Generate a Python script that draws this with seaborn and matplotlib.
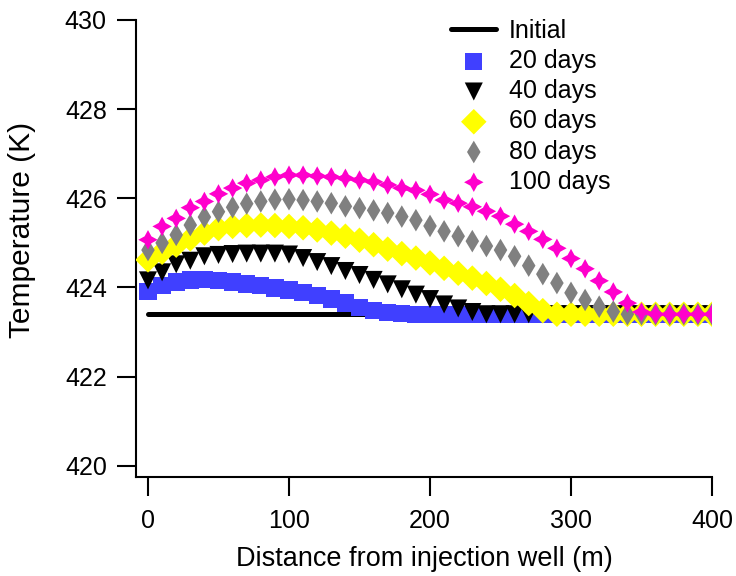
import numpy as np
import pandas as pd
import matplotlib
matplotlib.use("Agg")
import matplotlib.pyplot as plt
import seaborn as sns

sns.set_theme(style="ticks")
plt.rcParams['font.family'] = ['Liberation Sans', 'DejaVu Sans']
plt.rcParams['text.color'] = 'black'
plt.rcParams['axes.labelcolor'] = 'black'

distance = list(range(0, 401, 10))
initial_x = [0, 400]
initial_t = [423.4, 423.4]

t20 = [423.91, 424.04, 424.12, 424.17, 424.18, 424.16, 424.12, 424.08, 424.04, 423.99,
       423.94, 423.89, 423.82, 423.74, 423.65, 423.55, 423.48, 423.44, 423.41] + [423.4] * 22
t40 = [424.16, 424.34, 424.52, 424.60, 424.70, 424.73, 424.75, 424.76, 424.76, 424.76,
       424.74, 424.66, 424.57, 424.48, 424.37, 424.28, 424.17, 424.07, 423.96, 423.84,
       423.74, 423.62, 423.53, 423.45] + [423.4] * 17
t60 = [424.62, 424.79, 424.95, 425.09, 425.22, 425.32, 425.37, 425.39, 425.40, 425.39,
       425.37, 425.34, 425.29, 425.22, 425.15, 425.06, 424.96, 424.86, 424.76, 424.66,
       424.55, 424.43, 424.32, 424.21, 424.09, 423.96, 423.82, 423.64, 423.48] + [423.4] * 12
t80 = [424.84, 425.00, 425.18, 425.40, 425.58, 425.70, 425.80, 425.88, 425.93, 425.97,
       425.98, 425.96, 425.93, 425.89, 425.82, 425.78, 425.73, 425.67, 425.59, 425.51,
       425.38, 425.26, 425.15, 425.04, 424.93, 424.84, 424.70, 424.49, 424.30, 424.10,
       423.88, 423.72, 423.57, 423.46] + [423.4] * 7
t100 = [425.07, 425.37, 425.55, 425.79, 425.93, 426.10, 426.23, 426.34, 426.41, 426.48,
        426.52, 426.52, 426.50, 426.48, 426.45, 426.41, 426.37, 426.30, 426.23, 426.18,
        426.09, 425.96, 425.89, 425.81, 425.71, 425.60, 425.42, 425.26, 425.08, 424.88,
        424.65, 424.42, 424.15, 423.90, 423.65, 423.45] + [423.4] * 5

series = [
    ("20 days", t20, "#4040FF", "s", 12.5),
    ("40 days", t40, "#000000", "v", 13),
    ("60 days", t60, "#FFFF00", "D", 13),
    ("80 days", t80, "#808080", "d", 11.5),
    ("100 days", t100, "#FF00CC", (4, 1, 0), 14),
]

fig = plt.figure(figsize=(7.36, 5.76), dpi=100)
ax = fig.add_axes([0.1848, 0.1719, 0.7826, 0.7934])

sns.lineplot(x=initial_x, y=initial_t, ax=ax, color="black", linewidth=3.6,
             label="Initial")
for name, vals, col, mk, ms in series:
    df = pd.DataFrame({"x": distance, "y": vals})
    sns.scatterplot(data=df, x="x", y="y", ax=ax, color=col, marker=mk,
                    s=ms ** 2, linewidth=0, edgecolor="none", label=name, zorder=3)

ax.set_xlim(-8.5, 400)
ax.set_ylim(419.75, 430)
ax.set_xticks([0, 100, 200, 300, 400])
ax.set_yticks([420, 422, 424, 426, 428, 430])
for s in ["top", "right"]:
    ax.spines[s].set_visible(False)
for s in ["left", "bottom"]:
    ax.spines[s].set_linewidth(1.5)
    ax.spines[s].set_color("black")
ax.tick_params(direction="out", width=1.5, labelsize=18, color="black",
               labelcolor="black")
ax.tick_params(axis="y", length=14, pad=7)
ax.tick_params(axis="x", length=14, pad=8.7)
ax.set_xlabel("Distance from injection well (m)", fontsize=19.5, labelpad=10,
              color="black")
ax.set_ylabel("Temperature (K)", fontsize=21.5, va="center", color="black")
ax.yaxis.set_label_coords(-0.198, 0.54)

leg = ax.legend(loc="upper left", bbox_to_anchor=(0.530, 1.025), frameon=False,
                fontsize=18, handlelength=1.8, handletextpad=0.5, labelspacing=0.25,
                borderaxespad=0, labelcolor="black")

fig.savefig("out.png", dpi=100)
